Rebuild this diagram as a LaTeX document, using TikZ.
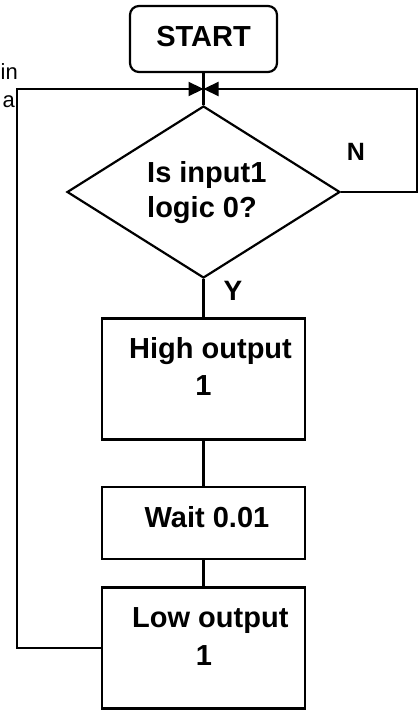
\documentclass[tikz,border=0pt]{standalone}
\usepackage{fontspec}
\setmainfont{Liberation Sans}
\usetikzlibrary{shapes.geometric,arrows.meta}
\begin{document}
\begin{tikzpicture}[x=1pt,y=-1pt,
  line/.style={line width=2.2pt, draw=black},
  arr/.style={line, -{Triangle[length=15pt,width=14pt]}},
  boxnode/.style={draw=black, line width=2.2pt, rectangle, minimum width=203pt, inner sep=0pt},
  lbl/.style={inner sep=0pt, font=\bfseries\fontsize{29}{35}\selectfont},
  side/.style={inner sep=0pt, font=\fontsize{22}{26}\selectfont}]
\useasboundingbox (0,0) rectangle (419,711);

% shapes
\node[draw=black, line width=2.2pt, rounded corners=9pt, minimum width=147pt, minimum height=66pt, inner sep=0pt] (start) at (203.5,39) {};
\node[draw=black, line width=2.2pt, diamond, aspect=1.587, minimum width=273pt, minimum height=172pt, inner sep=0pt] (dec) at (203.5,192) {};
\node[boxnode, minimum height=121pt] (high) at (203.5,379) {};
\node[boxnode, minimum height=72pt] (wait) at (203.5,523) {};
\node[boxnode, minimum height=121pt] (low) at (203.5,648) {};

% texts
\node[lbl, anchor=base] (starttxt) at (203.5,47) {START};
\node[lbl, anchor=base west] (dec1) at (147,183) {Is input1};
\node[lbl, anchor=base west] (dec2) at (147,218) {logic 0?};
\node[lbl, anchor=base west] (high1) at (129,358) {High output};
\node[lbl, anchor=base] (high2) at (203.5,395) {1};
\node[lbl, anchor=base] (waittxt) at (207,527) {Wait 0.01};
\node[lbl, anchor=base west] (low1) at (132,627) {Low output};
\node[lbl, anchor=base] (low2) at (204,665) {1};
\node[inner sep=0pt, font=\bfseries\fontsize{25}{30}\selectfont, anchor=base] (ntxt) at (356,161) {N};
\node[inner sep=0pt, font=\bfseries\fontsize{28}{33}\selectfont, anchor=base] (ytxt) at (233,300) {Y};
\node[side, anchor=base east] (sidein) at (18,80) {in};
\node[side, anchor=base east] (sidea) at (15,108) {a};

% coordinates
\coordinate (j) at (203.5,89);
\coordinate (lc) at (17,89);
\coordinate (rc) at (417,89);

% connectors
\draw[line] (start.south) -- (dec.north);
\draw[line] (dec.south) -- (high.north);
\draw[line] (high.south) -- (wait.north);
\draw[line] (wait.south) -- (low.north);
\draw[arr] (low.west) -| (lc) -- (j);
\draw[arr] (dec.east) -| (rc) -- (j);
\end{tikzpicture}
\end{document}
